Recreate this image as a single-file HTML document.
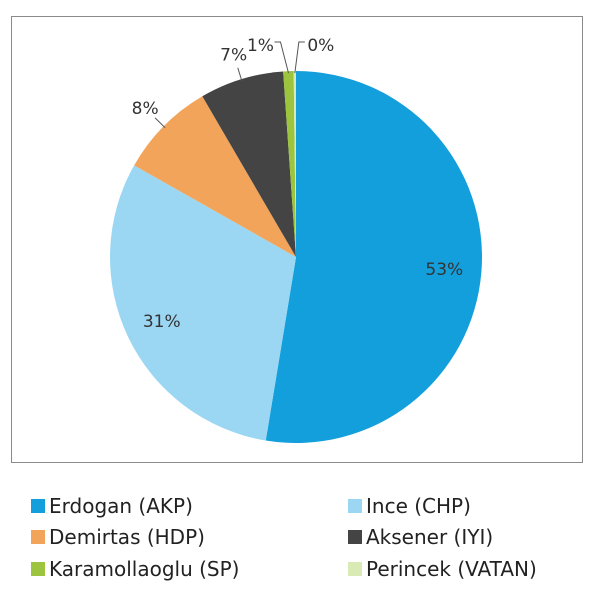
<!DOCTYPE html>
<html><head><meta charset="utf-8"><style>
body{margin:0;background:#fff;width:600px;height:599px;overflow:hidden;font-family:"DejaVu Sans","Liberation Sans",sans-serif;}
.frame{position:absolute;left:11px;top:16px;width:572px;height:447px;border:1px solid #8a8a8a;box-sizing:border-box;}
.leg{position:absolute;font-size:20px;color:#222;display:flex;align-items:center;}
.sw{width:14px;height:14px;margin-right:4px;display:inline-block;}
</style></head><body>
<div class="frame"></div>
<svg id="pie" width="600" height="470" style="position:absolute;left:0;top:0"></svg>
<div class="leg" style="left:31px;top:494px"><span class="sw" style="background:#139fdb"></span>Erdogan (AKP)</div>
<div class="leg" style="left:348px;top:494px"><span class="sw" style="background:#9bd7f2"></span>Ince (CHP)</div>
<div class="leg" style="left:31px;top:525px"><span class="sw" style="background:#f2a55a"></span>Demirtas (HDP)</div>
<div class="leg" style="left:348px;top:525px"><span class="sw" style="background:#444"></span>Aksener (IYI)</div>
<div class="leg" style="left:31px;top:557px"><span class="sw" style="background:#9cc43e"></span>Karamollaoglu (SP)</div>
<div class="leg" style="left:348px;top:557px"><span class="sw" style="background:#d9eab5"></span>Perincek (VATAN)</div>
<script>
const names=["erdogan","ince","demirtas","aksener","karamollaoglu","perincek"];
const values=[52.6,30.6,8.4,7.3,0.9,0.2];
const labels=["53%","31%","8%","7%","1%","0%"];
const colors=["#139fdb","#9bd7f2","#f2a55a","#444444","#9cc43e","#d9eab5"];
const svg=document.getElementById('pie');const NS="http://www.w3.org/2000/svg";
const cx=296,cy=257,r=186;
const total=values.reduce((a,b)=>a+b,0);
function pt(a,rr){return [cx+rr*Math.sin(a),cy-rr*Math.cos(a)];}
let a0=0;
values.forEach((v,i)=>{
 const a1=a0+v/total*2*Math.PI;
 const p0=pt(a0,r),p1=pt(a1,r);
 const path=document.createElementNS(NS,'path');
 path.setAttribute('d',`M${cx},${cy} L${p0[0]},${p0[1]} A${r},${r} 0 ${a1-a0>Math.PI?1:0} 1 ${p1[0]},${p1[1]} Z`);
 path.setAttribute('fill',colors[i]);
 
 
 svg.appendChild(path);
 const am=(a0+a1)/2;
 const t=document.createElementNS(NS,'text');
 let tx,ty;
 if(v>9){const p=pt(am,r*0.8);tx=p[0];ty=p[1];}
 else{
  let p;
  if(i===4){p=[262,45];}else if(i===5){p=[329,45];}else{p=pt(am,r+26);}
  const pe=pt(am,r-2);
  const ln=document.createElementNS(NS,'polyline');
  const mid=i>=4?[pe[0]+(i===4?-8:4),42]:[pt(am,r+12)[0],pt(am,r+12)[1]];
  ln.setAttribute('points',`${pe[0]},${pe[1]} ${mid[0]},${mid[1]} ${i===4?mid[0]-6:i===5?mid[0]+6:mid[0]},${mid[1]}`);
  ln.setAttribute('fill','none');ln.setAttribute('stroke','#555');ln.setAttribute('stroke-width','1');
  
  
  svg.appendChild(ln);
  tx=p[0];ty=p[1];
  if(i===4)tx=mid[0]-20;if(i===5)tx=mid[0]+22;
 }
 t.setAttribute('x',tx);t.setAttribute('y',ty+6);t.setAttribute('text-anchor','middle');
 t.setAttribute('font-size','17');t.setAttribute('fill','#333');
 t.setAttribute('font-family','DejaVu Sans, Liberation Sans, sans-serif');
 t.textContent=labels[i];
 
 
 svg.appendChild(t);
 a0=a1;
});
</script>
</body></html>
